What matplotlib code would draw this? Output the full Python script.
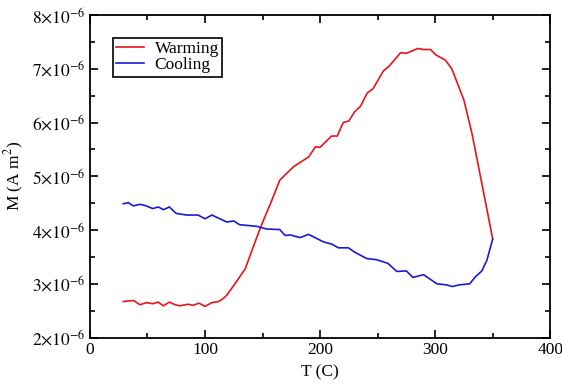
import numpy as np
import matplotlib
matplotlib.use("Agg")
import matplotlib.pyplot as plt
from matplotlib.ticker import MultipleLocator, FuncFormatter

# valores (M en unidades de 1e-6 A m^2)
T_warm = [29, 33, 38, 43.5, 49, 54.5, 59.4, 63.8, 69, 73, 78, 85, 89.6, 94.8, 100,
          106, 111.6, 115, 119, 126, 135, 142, 149, 158, 165, 177, 190, 196, 200,
          210, 215, 220, 225, 230, 235, 241, 246, 255, 260, 270, 275, 285, 290,
          296, 300.6, 309, 314.5, 325, 332, 343.5, 350]
M_warm = [2.67, 2.68, 2.69, 2.61, 2.65, 2.63, 2.66, 2.59, 2.66, 2.62, 2.59, 2.62, 2.60,
          2.64, 2.58, 2.65, 2.67, 2.71, 2.79, 3.0, 3.28, 3.69, 4.09, 4.55, 4.93, 5.18,
          5.36, 5.55, 5.54, 5.75, 5.75, 6.0, 6.03, 6.2, 6.3, 6.55, 6.63, 6.96, 7.05,
          7.3, 7.29, 7.38, 7.36, 7.36, 7.26, 7.16, 7.0, 6.42, 5.8, 4.55, 3.84]

T_cool = [29, 33.3, 37.7, 43.5, 49, 54.5, 59.4, 64, 69, 75, 84, 94, 100, 106, 119,
          125, 130, 145, 153.6, 165, 169.6, 174, 182.6, 190, 203, 210, 216, 224.6,
          230, 240.6, 249, 259, 266.7, 275, 280.6, 290, 301.5, 310, 315, 321, 330,
          335, 340.6, 345, 350]
M_cool = [4.49, 4.51, 4.45, 4.48, 4.45, 4.40, 4.43, 4.38, 4.43, 4.31, 4.28, 4.28, 4.21,
          4.28, 4.15, 4.17, 4.10, 4.07, 4.02, 4.01, 3.90, 3.91, 3.86, 3.92, 3.78,
          3.74, 3.67, 3.67, 3.59, 3.47, 3.45, 3.38, 3.23, 3.24, 3.12, 3.17, 3.0,
          2.98, 2.95, 2.98, 3.0, 3.13, 3.24, 3.44, 3.83]

plt.rcParams['font.family'] = ['Liberation Serif', 'DejaVu Serif']
plt.rcParams['mathtext.fontset'] = 'stix'

fig = plt.figure(figsize=(5.62, 3.88), dpi=100)
ax = fig.add_axes([0.160, 0.130, 0.819, 0.831])

ax.plot(T_warm, np.array(M_warm) * 1e-6, color='#e8141c', lw=1.2, label='Warming')
ax.plot(T_cool, np.array(M_cool) * 1e-6, color='#1a1ad6', lw=1.2, label='Cooling')

ax.set_xlim(0, 400)
ax.set_ylim(2e-6, 8e-6)
ax.xaxis.set_major_locator(MultipleLocator(100))
ax.xaxis.set_minor_locator(MultipleLocator(50))
ax.yaxis.set_major_locator(MultipleLocator(1e-6))
ax.yaxis.set_minor_locator(MultipleLocator(0.5e-6))

def fmt_y(v, pos):
    return r"$%d{\times}10^{-6}$" % round(v * 1e6)

ax.yaxis.set_major_formatter(FuncFormatter(fmt_y))
ax.tick_params(which='both', direction='in', top=True, right=True, labelsize=12.5, width=1.2)
ax.tick_params(which='major', length=6)
ax.tick_params(which='minor', length=3.5)
for s in ax.spines.values():
    s.set_linewidth(1.3)

ax.set_xlabel('T (C)', fontsize=12.5)
ax.set_ylabel(r'M (A m$^2$)', fontsize=12.5)

leg = ax.legend(loc='upper left', bbox_to_anchor=(0.05, 0.93), fontsize=12.5,
                handlelength=1.6, handletextpad=0.6, borderpad=0.2, labelspacing=0.0,
                fancybox=False, framealpha=1, edgecolor='black', borderaxespad=0)
leg.get_frame().set_linewidth(1.2)

fig.savefig('out.png', dpi=100)
